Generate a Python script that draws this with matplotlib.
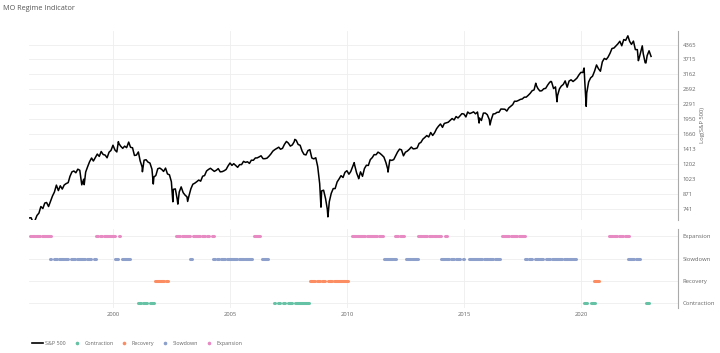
import matplotlib
matplotlib.use("Agg")
import matplotlib.pyplot as plt
from matplotlib.lines import Line2D
import numpy as np
import pandas as pd

plt.rcParams['font.family'] = ['Open Sans', 'DejaVu Sans']

# S&P 500 month-end closes, May 1996 .. Dec 2022
spx_start = "1996-05-31"
spx_close = [
    669.1, 670.6, 639.9, 652.0, 687.3, 705.3, 757.0, 740.7,
    786.2, 790.8, 757.1, 801.3, 848.3, 885.1, 954.3, 899.5, 947.3, 914.6, 955.4, 970.4,
    980.3, 1049.3, 1101.8, 1111.8, 1090.8, 1133.8, 1120.7, 957.3, 1017.0, 1098.7, 1163.6, 1229.2,
    1279.6, 1238.3, 1286.4, 1335.2, 1301.8, 1372.7, 1328.7, 1320.4, 1282.7, 1362.9, 1388.9, 1469.3,
    1394.5, 1366.4, 1498.6, 1452.4, 1420.6, 1454.6, 1430.8, 1517.7, 1436.5, 1429.4, 1315.2, 1320.3,
    1366.0, 1239.9, 1160.3, 1249.5, 1255.8, 1224.4, 1211.2, 1133.6, 1040.9, 1059.8, 1139.5, 1148.1,
    1130.2, 1106.7, 1147.4, 1076.9, 1067.1, 989.8, 911.6, 916.1, 815.3, 885.8, 936.3, 879.8,
    855.7, 841.2, 848.2, 916.9, 963.6, 974.5, 990.3, 1008.0, 996.0, 1050.7, 1058.2, 1111.9,
    1131.1, 1144.9, 1126.2, 1107.3, 1120.7, 1140.8, 1101.7, 1104.2, 1114.6, 1130.2, 1173.8, 1211.9,
    1181.3, 1203.6, 1180.6, 1156.9, 1191.5, 1191.3, 1234.2, 1220.3, 1228.8, 1207.0, 1249.5, 1248.3,
    1280.1, 1280.7, 1294.9, 1310.6, 1270.1, 1270.2, 1276.7, 1303.8, 1335.9, 1377.9, 1400.6, 1418.3,
    1438.2, 1406.8, 1420.9, 1482.4, 1530.6, 1503.4, 1455.3, 1474.0, 1526.8, 1549.4, 1481.1, 1468.4,
    1378.6, 1330.6, 1322.7, 1385.6, 1400.4, 1280.0, 1267.4, 1282.8, 1166.4, 968.8, 896.2, 903.3,
    825.9, 735.1, 797.9, 872.8, 919.1, 919.3, 987.5, 1020.6, 1057.1, 1036.2, 1095.6, 1115.1,
    1073.9, 1104.5, 1169.4, 1186.7, 1089.4, 1030.7, 1101.6, 1049.3, 1141.2, 1183.3, 1180.6, 1257.6,
    1286.1, 1327.2, 1325.8, 1363.6, 1345.2, 1320.6, 1292.3, 1218.9, 1131.4, 1253.3, 1247.0, 1257.6,
    1312.4, 1365.7, 1408.5, 1397.9, 1310.3, 1362.2, 1379.3, 1406.6, 1440.7, 1412.2, 1416.2, 1426.2,
    1498.1, 1514.7, 1569.2, 1597.6, 1630.7, 1606.3, 1685.7, 1633.0, 1681.6, 1756.5, 1805.8, 1848.4,
    1782.6, 1859.5, 1872.3, 1884.0, 1923.6, 1960.2, 1930.7, 2003.4, 1972.3, 2018.1, 2067.6, 2058.9,
    1995.0, 2104.5, 2067.9, 2085.5, 2107.4, 2063.1, 2103.8, 1972.2, 1920.0, 2079.4, 2080.4, 2043.9,
    1940.2, 1932.2, 2059.7, 2065.3, 2097.0, 2098.9, 2173.6, 2171.0, 2168.3, 2126.2, 2198.8, 2238.8,
    2278.9, 2363.6, 2362.7, 2384.2, 2411.8, 2423.4, 2470.3, 2471.7, 2519.4, 2575.3, 2647.6, 2673.6,
    2823.8, 2713.8, 2640.9, 2648.1, 2705.3, 2718.4, 2816.3, 2901.5, 2914.0, 2711.7, 2760.2, 2506.9,
    2704.1, 2784.5, 2834.4, 2945.8, 2752.1, 2941.8, 2980.4, 2926.5, 2976.7, 3037.6, 3141.0, 3230.8,
    3225.5, 2954.2, 2584.6, 2912.4, 3044.3, 3100.3, 3271.1, 3500.3, 3363.0, 3270.0, 3621.6, 3756.1,
    3714.2, 3811.2, 3972.9, 4181.2, 4204.1, 4297.5, 4395.3, 4522.7, 4307.5, 4605.4, 4567.0, 4766.2,
    4515.6, 4373.9, 4530.4, 4131.9, 4132.2, 3785.4, 4130.3, 3955.0, 3585.6, 3872.0, 4080.1, 3839.5,
]
# intra-month highs / lows visible on the chart
extreme_dates = ["1998-10-08", "2000-03-24", "2000-09-01", "2001-04-04", "2001-09-21",
                 "2002-07-23", "2002-10-09", "2003-03-11", "2007-10-09", "2008-11-20",
                 "2009-03-09", "2010-04-23", "2010-07-02", "2011-04-29", "2011-10-03",
                 "2015-08-25", "2016-02-11", "2018-01-26", "2018-09-20", "2018-12-24",
                 "2020-02-19", "2020-03-23", "2022-01-03", "2022-06-16", "2022-08-16",
                 "2022-10-12"]
extreme_values = [959, 1527, 1520, 1103, 966,
                  797, 777, 800, 1565, 752,
                  677, 1217, 1023, 1364, 1099,
                  1868, 1829, 2873, 2931, 2351,
                  3386, 2237, 4797, 3667, 4305,
                  3577]

# regime periods (decimal years)
regime_names = ["Contraction", "Recovery", "Slowdown", "Expansion"]
regime_colors = ["#66c2a5", "#fc8d62", "#8da0cb", "#e78ac3"]
contraction_periods = [(2001.05, 2001.20), (2001.28, 2001.45), (2001.56, 2001.74),
                       (2006.86, 2006.93), (2007.05, 2007.15), (2007.26, 2007.36),
                       (2007.50, 2007.65), (2007.79, 2008.39),
                       (2020.15, 2020.26), (2020.44, 2020.61), (2022.78, 2022.92)]
recovery_periods = [(2001.78, 2002.19), (2002.28, 2002.35),
                    (2008.44, 2008.65), (2008.72, 2008.86), (2008.93, 2009.04),
                    (2009.19, 2009.36), (2009.43, 2009.79), (2009.85, 2010.03),
                    (2020.58, 2020.78)]
slowdown_periods = [(1997.29, 1997.36), (1997.46, 1997.61), (1997.68, 1997.89),
                    (1997.96, 1998.06), (1998.21, 1998.39), (1998.46, 1998.81),
                    (1998.89, 1999.06), (1999.20, 1999.29), (2000.10, 2000.20),
                    (2000.38, 2000.74), (2003.27, 2003.38), (2004.26, 2004.37),
                    (2004.44, 2004.54), (2004.63, 2004.80), (2004.87, 2005.30),
                    (2005.37, 2005.58), (2005.62, 2005.94), (2006.37, 2006.62),
                    (2011.59, 2011.95), (2012.02, 2012.11), (2012.52, 2012.74),
                    (2012.78, 2013.02), (2014.02, 2014.20), (2014.24, 2014.38),
                    (2014.44, 2014.59), (2014.67, 2014.84), (2014.96, 2015.01),
                    (2015.20, 2015.77), (2015.84, 2016.03), (2016.09, 2016.26),
                    (2016.34, 2016.52), (2017.62, 2017.69), (2017.79, 2017.93),
                    (2018.02, 2018.19), (2018.26, 2018.40), (2018.50, 2018.69),
                    (2018.76, 2019.19), (2019.26, 2019.43), (2019.51, 2019.62),
                    (2019.68, 2019.79), (2022.01, 2022.25), (2022.35, 2022.53)]
expansion_periods = [(1996.44, 1996.50), (1996.55, 1996.68), (1996.72, 1996.86),
                     (1996.97, 1997.33), (1999.29, 1999.34), (1999.46, 1999.53),
                     (1999.63, 1999.77), (1999.81, 2000.10), (2000.24, 2000.28),
                     (2002.71, 2002.85), (2002.95, 2003.30), (2003.44, 2003.70),
                     (2003.80, 2003.95), (2004.02, 2004.09), (2004.23, 2004.30),
                     (2006.01, 2006.29), (2010.23, 2010.40), (2010.45, 2010.78),
                     (2010.85, 2011.28), (2011.35, 2011.54), (2012.06, 2012.20),
                     (2012.25, 2012.45), (2013.02, 2013.21), (2013.25, 2013.42),
                     (2013.49, 2013.68), (2013.73, 2013.85), (2013.91, 2014.02),
                     (2014.20, 2014.27), (2016.62, 2016.91), (2017.01, 2017.26),
                     (2017.36, 2017.62), (2021.18, 2021.36), (2021.43, 2021.53),
                     (2021.61, 2021.82), (2021.89, 2022.04)]
regime_periods = [contraction_periods, recovery_periods, slowdown_periods, expansion_periods]

y_ticks = [741, 871, 1023, 1202, 1413, 1660, 1950, 2291, 2692, 3162, 3715, 4365]
x_ticks = [2000, 2005, 2010, 2015, 2020]


def to_year(dates):
    d = pd.to_datetime(dates)
    return np.asarray(d.year + (d.dayofyear - 0.5) / 365.25)


month_ends = pd.date_range(spx_start, periods=len(spx_close), freq="ME")
xs = np.concatenate([to_year(month_ends), to_year(extreme_dates)])
ys = np.concatenate([spx_close, extreme_values])
order = np.argsort(xs)
xs, ys = xs[order], ys[order]

grid_c = "#eeeeee"
txt_c = "#666666"
spine_c = "#aaaaaa"
fs = 4.2
xlim = (1996.40, 2024.16)

fig = plt.figure(figsize=(7.2, 3.53), dpi=100)
ax1 = fig.add_axes([0.040, 0.377, 0.902, 0.535])
ax2 = fig.add_axes([0.040, 0.1275, 0.902, 0.224])

# top panel
ax1.plot(xs, ys, color="black", lw=1.1, zorder=3)
ax1.set_yscale("log")
ax1.set_ylim(655, 5050)
ax1.set_xlim(*xlim)
ax1.set_yticks(y_ticks)
ax1.set_yticklabels([str(t) for t in y_ticks])
ax1.yaxis.set_minor_locator(matplotlib.ticker.NullLocator())
ax1.yaxis.tick_right()
ax1.yaxis.set_label_position("right")
ax1.set_ylabel("Log(S&P 500)", fontsize=fs, color=txt_c, labelpad=3)
ax1.set_xticks(x_ticks)
ax1.set_xticklabels([])

# bottom panel
for i, periods in enumerate(regime_periods):
    for s, e in periods:
        ax2.plot([s, e], [i, i], color=regime_colors[i], lw=2.2,
                 solid_capstyle="round", zorder=3)
ax2.set_ylim(-0.22, 3.33)
ax2.set_xlim(*xlim)
ax2.set_yticks(range(len(regime_names)))
ax2.set_yticklabels(regime_names)
ax2.yaxis.tick_right()
ax2.set_xticks(x_ticks)
ax2.set_xticklabels([str(t) for t in x_ticks])

for ax in (ax1, ax2):
    ax.grid(True, color=grid_c, lw=0.6)
    ax.set_axisbelow(True)
    ax.tick_params(length=0, labelsize=fs, colors=txt_c, pad=3)
    for side in ("left", "top", "bottom"):
        ax.spines[side].set_visible(False)
    ax.spines["right"].set_color(spine_c)
    ax.spines["right"].set_linewidth(0.8)

fig.text(0.004, 0.985, "MO Regime Indicator", fontsize=5.2, color="#555555",
         va="top", ha="left")

handles = [Line2D([], [], color="black", lw=1.2)]
for c in regime_colors:
    handles.append(Line2D([], [], ls="none", marker="o", ms=1.6, color=c))
fig.legend(handles, ["S&P 500"] + regime_names, loc="center left",
           bbox_to_anchor=(0.038, 0.028), ncol=5, frameon=False, fontsize=3.9,
           labelcolor=txt_c, handlelength=2.0, handletextpad=0.4, columnspacing=1.0)

fig.savefig("out.png", dpi=100)
